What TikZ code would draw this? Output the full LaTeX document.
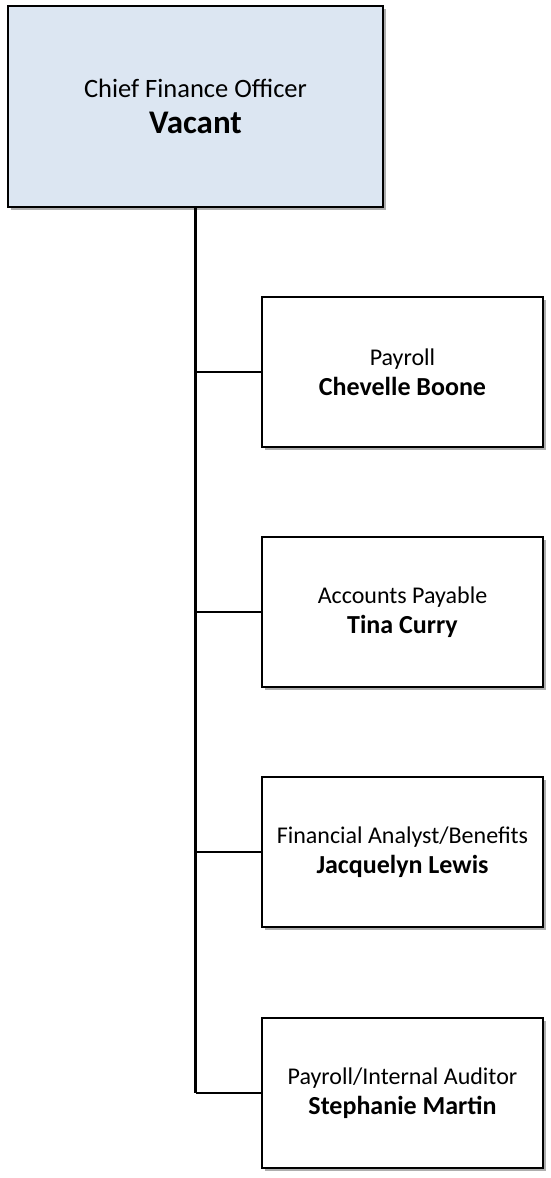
\documentclass[tikz,border=0pt]{standalone}
\usepackage{fontspec}
\setmainfont{Carlito}
\usetikzlibrary{shadows}
\definecolor{cfoblue}{HTML}{DCE6F2}
\tikzset{
  post/.style={draw=black, line width=1.3pt, align=center, fill=white,
    drop shadow={shadow xshift=2.5pt, shadow yshift=-2.5pt, fill=black!45, opacity=0.7},
    inner sep=0pt},
  chief/.style={post, fill=cfoblue, minimum width=375pt, minimum height=201pt,
    font=\fontsize{26.5}{36}\selectfont},
  staff/.style={post, minimum width=281pt, minimum height=150pt,
    font=\fontsize{24}{30}\selectfont},
  link/.style={line width=2.4pt}
}
\newcommand{\toptitle}[2]{#1\\{\fontsize{33}{36}\selectfont\bfseries #2}}
\newcommand{\stafftitle}[2]{#1\\{\fontsize{26}{30}\selectfont\bfseries #2}}
\begin{document}
\begin{tikzpicture}[x=1pt,y=-1pt]
	\useasboundingbox (0,0) rectangle (550,1178);
	\node[chief] (cfo) at (195.5,106.5) {\toptitle{Chief Finance Officer}{Vacant}};
	\node[staff] (pay) at (402.5,372) {\stafftitle{Payroll}{Chevelle Boone}};
	\node[staff] (ap) at (402.5,612) {\stafftitle{Accounts Payable}{Tina Curry}};
	\node[staff] (fa) at (402.5,852) {\stafftitle{Financial Analyst/Benefits}{Jacquelyn Lewis}};
	\node[staff] (ia) at (402.5,1093) {\stafftitle{Payroll/Internal Auditor}{Stephanie Martin}};
	\coordinate (trunk) at (cfo.south |- ia.west);
	\draw[link] (cfo.south) -- (trunk);
	\foreach \n in {pay,ap,fa,ia}
		\draw[link] (cfo.south |- \n.west) -- (\n.west);
\end{tikzpicture}
\end{document}
